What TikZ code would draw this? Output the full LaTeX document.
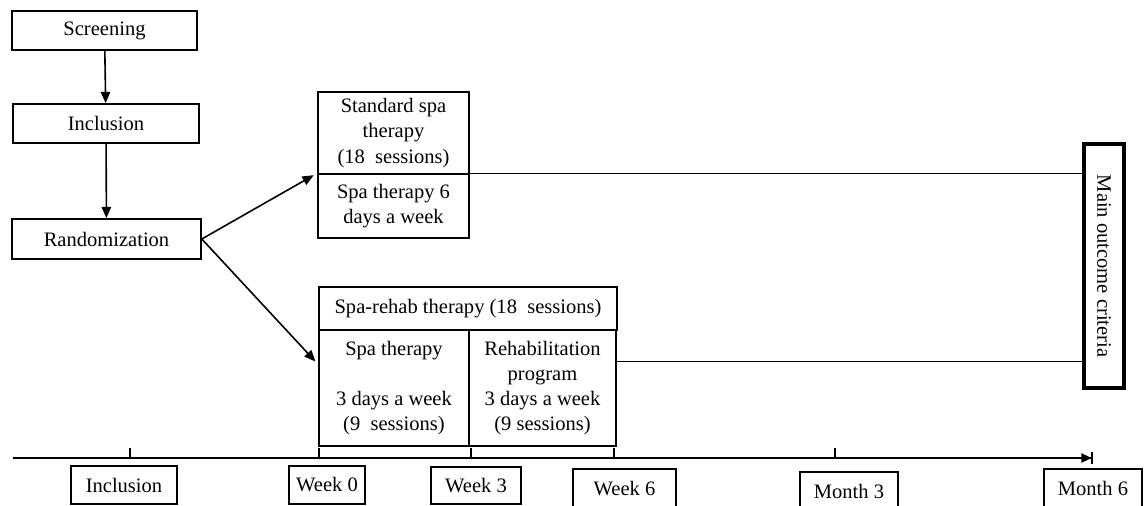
\documentclass[tikz,border=0pt]{standalone}
\usepackage{fontspec}
\setmainfont{Liberation Serif}
\usetikzlibrary{arrows.meta,calc}
\newcommand{\px}{0.75pt}
\begin{document}
\begin{tikzpicture}[x=\px,y=-\px,
  box/.style={draw,line width=1.2pt,inner sep=0pt,align=center,font=\fontsize{15.4}{18.8}\selectfont},
  link/.style={line width=1.2pt,-{Triangle[length=8.5pt,width=7pt]}}]
\useasboundingbox (0,0) rectangle (1146,506);
%flow boxes
\node[box,minimum width=185*\px,minimum height=39*\px](scr) at (104.5,30.5){Screening};
\node[box,minimum width=186*\px,minimum height=39*\px](inc) at (106,123.5){Inclusion};
\node[box,minimum width=189*\px,minimum height=40*\px](rnd) at (106.5,239){Randomization};
\node[box,minimum width=151*\px,minimum height=82*\px](stdA) at (393.5,133){Standard spa\\therapy\\(18~ sessions)};
\node[box,minimum width=151*\px,minimum height=64*\px](stdB) at (393.5,206){Spa therapy 6\\days a week};
\node[box,minimum width=298*\px,minimum height=43*\px](rhb) at (468,308.5){Spa-rehab therapy (18~ sessions)};
\node[box,minimum width=150*\px,minimum height=116*\px](spa) at (394,388){Spa therapy\\\mbox{}\\3 days a week\\(9~ sessions)};
\node[box,minimum width=147*\px,minimum height=116*\px](reh) at (542.5,388){Rehabilitation\\program\\3 days a week\\(9 sessions)};
\node[box,line width=2.8pt,minimum width=244*\px,minimum height=40*\px,rotate=-90](moc) at (1104,266){Main outcome criteria};
%arrows and lines
\draw[link] (scr) -- (inc);
\draw[link] (inc) -- (rnd);
\draw[link,shorten >=3pt] (rnd.east) -- (stdB.north west);
\coordinate (sp) at ($(spa.north west)!0.3!(spa.south west)$);
\draw[link,shorten >=3pt] (rnd.east) -- (sp);
\draw[line width=1pt] (stdB.north east) -- (stdB.north east -| moc.south);
\coordinate (rh) at ($(reh.north east)!0.276!(reh.south east)$);
\draw[line width=1pt] (rh) -- (rh -| moc.south);
%time line
\coordinate (ax0) at (13,458);
\coordinate (ax1) at (1093,458);
\draw[line width=1.2pt,-{Triangle[length=7.5pt,width=7pt]Bar[width=9pt,line width=1.2pt]}] (ax0) -- (ax1);
\foreach \t in {130,319,471,614,835}
  \draw[line width=1.2pt] (\t,458) -- ++(0,-10);
\node[box,minimum width=106*\px,minimum height=38*\px](tInc) at (124,485){Inclusion};
\node[box,minimum width=76*\px,minimum height=38*\px](tWa) at (327,485){Week 0};
\node[box,minimum width=90*\px,minimum height=37*\px](tWb) at (476,485.5){Week 3};
\node[box,minimum width=103*\px,minimum height=39*\px](tWc) at (624.5,488.5){Week 6};
\node[box,minimum width=98*\px,minimum height=39*\px](tMa) at (849,491.5){Month 3};
\node[box,minimum width=98*\px,minimum height=39*\px](tMb) at (1093,488.5){Month 6};
\end{tikzpicture}
\end{document}
